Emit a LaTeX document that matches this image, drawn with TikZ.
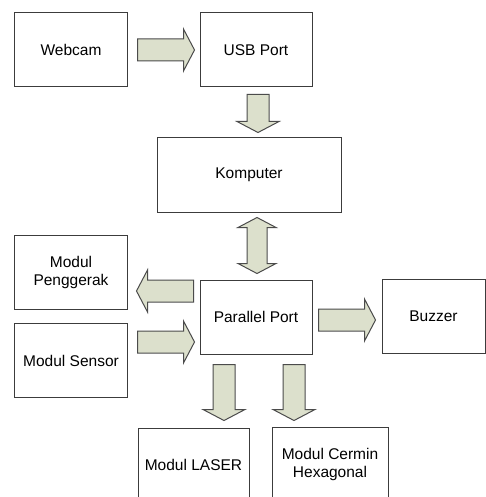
\documentclass[tikz,border=0pt]{standalone}
\usepackage{fontspec}
\setmainfont{Liberation Sans}
\usetikzlibrary{calc}

\definecolor{boxline}{RGB}{60,60,60}
\definecolor{arrowline}{RGB}{75,75,75}
\definecolor{arrowfill}{RGB}{220,224,204}

\tikzset{
  box/.style={draw=boxline, line width=1bp, fill=white, align=center,
    minimum width=112bp, minimum height=74bp, inner sep=2bp,
    font=\fontsize{15.5bp}{18bp}\selectfont},
  blockarrowstyle/.style={draw=arrowline, line width=1bp, fill=arrowfill, line join=miter},
  % single block arrow: tail at the origin, tip at (#1,0)
  pics/blockarrow/.style={code={
    \draw[blockarrowstyle] (0,-11) -- (#1-11,-11) -- (#1-11,-21) -- (#1,0)
      -- (#1-11,21) -- (#1-11,11) -- (0,11) -- cycle;}},
  % double block arrow: tips at the origin and at (#1,0)
  pics/doublearrow/.style={code={
    \draw[blockarrowstyle] (0,0) -- (10,-19) -- (10,-10) -- (#1-10,-10)
      -- (#1-10,-19) -- (#1,0) -- (#1-10,19) -- (#1-10,10) -- (10,10)
      -- (10,19) -- cycle;}}
}

\begin{document}
\begin{tikzpicture}[x=1bp, y=-1bp]
\useasboundingbox (0,0) rectangle (486,497);
\clip (0,0) rectangle (486,497);

% blocks
\node[box] (web) at (71,50) {Webcam};
\node[box] (usb) at (256,50) {USB Port};
\node[box, minimum width=184bp] (komp) at (249,175) {Komputer};
\node[box] (pengg) at (71,272) {Modul\\Penggerak};
\node[box] (sensor) at (71,360.5) {Modul Sensor};
\node[box] (par) at (256,317) {Parallel Port};
\node[box, minimum width=103bp] (buzz) at (433.5,316) {Buzzer};
\node[box, minimum width=111bp] (laser) at (193.5,465) {Modul LASER};
\node[box, minimum width=116bp] (cermin) at (330,464) {Modul Cermin\\Hexagonal};

% block arrows between the blocks
\pic at ($(web.east)+(10,0)$) {blockarrow=57};
\pic[rotate=-90] at ($(usb.south)+(2,7)$) {blockarrow=38};
\pic[rotate=-90] at ($(komp.south)+(8,5)$) {doublearrow=56};
\pic[rotate=180] at ($(par.west)+(-6,-26)$) {blockarrow=57};
\pic at ($(sensor.east)+(10,-18.5)$) {blockarrow=57};
\pic at ($(par.east)+(6,3)$) {blockarrow=57};
\pic[rotate=-90] at ($(par.south)+(-32,10)$) {blockarrow=56};
\pic[rotate=-90] at ($(par.south)+(38,10)$) {blockarrow=56};
\end{tikzpicture}
\end{document}
